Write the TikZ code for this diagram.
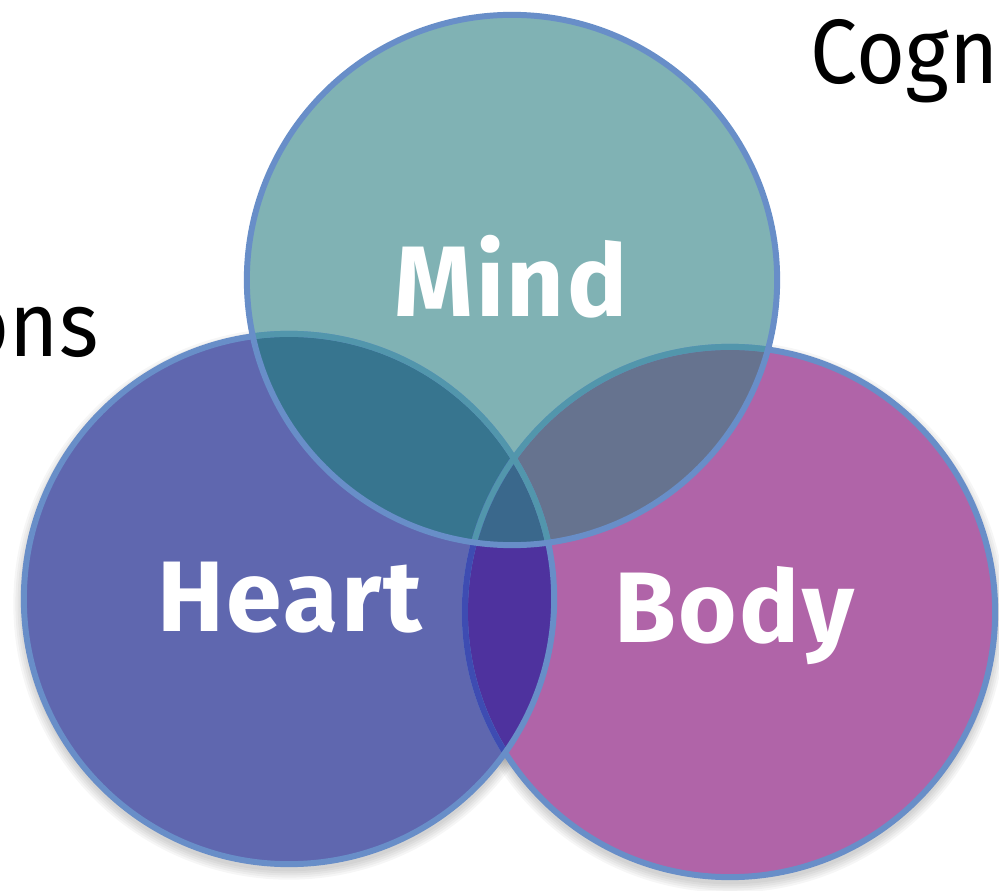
\documentclass[tikz,border=0pt]{standalone}
\usepackage{fontspec}
\setmainfont{Lato}
\newfontfamily\tagfont[LetterSpace=2.5]{Fira Sans}
\newfontfamily\sidefont[FakeStretch=0.92]{Fira Sans}
\usetikzlibrary{calc}

\definecolor{mindfill}{RGB}{128,178,180}
\definecolor{heartfill}{RGB}{95,103,175}
\definecolor{bodyfill}{RGB}{176,100,168}
\definecolor{mindheart}{RGB}{55,117,143}
\definecolor{mindbody}{RGB}{102,115,143}
\definecolor{heartbody}{RGB}{78,50,158}
\definecolor{allthree}{RGB}{58,104,140}
\definecolor{rim}{RGB}{104,142,200}
\definecolor{rimdark}{RGB}{62,76,178}
\definecolor{rimteal}{RGB}{82,150,172}

\tikzset{
  rimline/.style={draw=rim,line width=1.7pt},
  tag/.style={inner sep=0pt,text=white,font=\tagfont\bfseries\fontsize{28.5}{28.5}\selectfont},
  side/.style={inner sep=0pt,font=\sidefont\fontsize{26}{26}\selectfont}
}

\begin{document}
\begin{tikzpicture}[x=0.01cm,y=-0.01cm,line cap=round,line join=round]
  \useasboundingbox (0,0) rectangle (999,891);
  \fill[white] (0,0) rectangle (999,891);
  \def\R{2.65cm}

  % --- centres of the three circles ---
  \coordinate (M) at (512,280);
  \coordinate (H) at (289,599);
  \coordinate (B) at (730,612);

  % --- soft shadow under the circles ---
  \foreach \k in {1,...,5}{
    \fill[black,opacity=0.035] ($(H)+(0,5)$) circle[radius=\R+\k*0.6pt];
    \fill[black,opacity=0.035] ($(B)+(0,5)$) circle[radius=\R+\k*0.6pt];
  }

  % --- plain fills ---
  \fill[heartfill] (H) circle[radius=\R];
  \fill[bodyfill]  (B) circle[radius=\R];
  \fill[mindfill]  (M) circle[radius=\R];

  % --- overlaps ---
  \begin{scope}
    \clip (H) circle[radius=\R];
    \fill[heartbody] (B) circle[radius=\R];
  \end{scope}
  \begin{scope}
    \clip (M) circle[radius=\R];
    \fill[mindheart] (H) circle[radius=\R];
    \fill[mindbody]  (B) circle[radius=\R];
    \clip (H) circle[radius=\R];
    \fill[allthree]  (B) circle[radius=\R];
  \end{scope}

  % --- rims ---
  \draw[rimline] (B) circle[radius=\R];
  \begin{scope}
    \clip (H) circle[radius=\R];
    \draw[rimline,draw=rimdark] (B) circle[radius=\R];
  \end{scope}
  \draw[rimline] (H) circle[radius=\R];
  \begin{scope}
    \clip (M) circle[radius=\R];
    \draw[rimline,draw=rimteal] (H) circle[radius=\R];
    \draw[rimline,draw=rimteal] (B) circle[radius=\R];
  \end{scope}
  \draw[rimline] (M) circle[radius=\R];

  % --- circle labels ---
  \node[tag,anchor=base] (mind)  at (511,317) {Mind};
  \node[tag,anchor=base] (heart) at (290,632) {Heart};
  \node[tag,anchor=base] (body)  at (734,643) {Body};

  % --- cut-off side words ---
  \node[side,anchor=base west] (cogn) at (810,84) {Cogn};
  \node[side,anchor=base east] (ons)  at (99,357) {ons};
\end{tikzpicture}
\end{document}
